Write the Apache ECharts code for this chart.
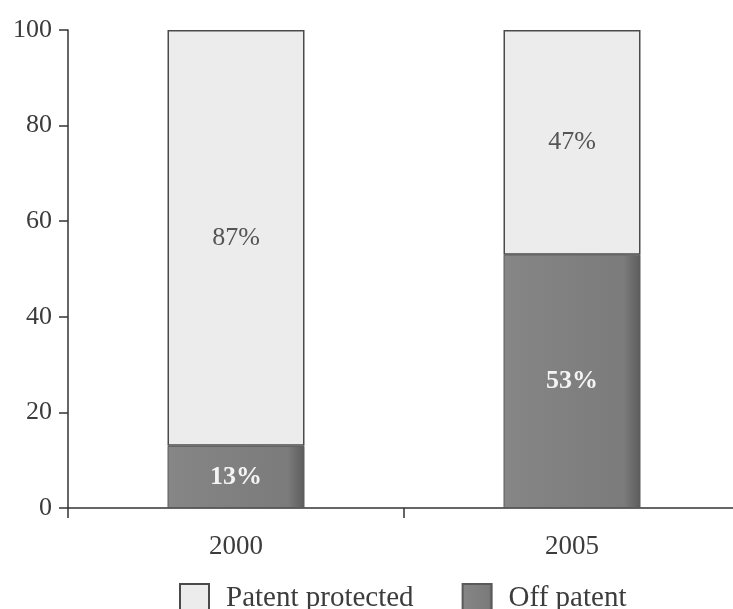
<!DOCTYPE html>
<html>
<head>
<meta charset="utf-8">
<script src="https://cdn.jsdelivr.net/npm/echarts@6/dist/echarts.min.js"></script>
<style>
  html, body { margin: 0; padding: 0; background: #ffffff; overflow: hidden; }
  /* the category axis runs a few pixels past the right edge of the page */
  #chart { width: 740px; height: 609px; }
</style>
</head>
<body>
<div id="chart"></div>
<script>
// Share of sales by patent status, in percent
const years = ['2000', '2005'];
const offPatent = [13, 53];
const patentProtected = [87, 47];
const seriesNames = ['Patent protected', 'Off patent'];
const yTicks = { min: 0, max: 100, step: 20 };

const serif = '"Liberation Serif", "DejaVu Serif", serif';
const ink = '#3c3c3c';

const chart = echarts.init(document.getElementById('chart'), null, { renderer: 'canvas' });

const darkFill = {
  type: 'linear', x: 0, y: 0, x2: 1, y2: 0,
  colorStops: [
    { offset: 0, color: '#868686' },
    { offset: 0.88, color: '#7b7b7b' },
    { offset: 1, color: '#5c5c5c' }
  ]
};

chart.setOption({
  animation: false,
  backgroundColor: '#ffffff',
  grid: { left: 68, top: 30, right: 0, bottom: 101, containLabel: false },
  legend: {
    data: seriesNames,
    left: 174,
    top: 578,
    itemWidth: 29,
    itemHeight: 29,
    itemGap: 48,
    icon: 'rect',
    textStyle: {
      fontFamily: serif,
      fontSize: 29,
      color: ink,
      padding: [0, 0, 0, 12]
    }
  },
  xAxis: {
    type: 'category',
    data: years,
    boundaryGap: true,
    axisLine: { lineStyle: { color: '#333', width: 1.5 } },
    axisTick: { show: true, length: 10, alignWithLabel: false, lineStyle: { color: '#333', width: 1.5 } },
    axisLabel: { fontFamily: serif, fontSize: 27, color: ink, margin: 25 }
  },
  yAxis: {
    type: 'value',
    min: yTicks.min,
    max: yTicks.max,
    interval: yTicks.step,
    splitLine: { show: false },
    axisLine: { show: true, lineStyle: { color: '#333', width: 1.5 } },
    axisTick: { show: true, length: 9, lineStyle: { color: '#333', width: 1.5 } },
    axisLabel: { fontFamily: serif, fontSize: 26, color: ink, margin: 16 }
  },
  series: [
    {
      name: seriesNames[1],
      type: 'bar',
      stack: 'share',
      barWidth: 137,
      data: offPatent,
      itemStyle: { color: darkFill, borderColor: '#5a5a5a', borderWidth: 1 },
      label: {
        show: true,
        position: 'inside',
        formatter: p => p.value + '%',
        fontFamily: serif,
        fontWeight: 'bold',
        fontSize: 26,
        color: '#f4f4f4'
      }
    },
    {
      name: seriesNames[0],
      type: 'bar',
      stack: 'share',
      barWidth: 137,
      data: patentProtected,
      itemStyle: { color: '#ececec', borderColor: '#4a4a4a', borderWidth: 1.5 },
      label: {
        show: true,
        position: 'inside',
        formatter: p => p.value + '%',
        fontFamily: serif,
        fontSize: 26,
        color: '#555555'
      }
    }
  ]
});
</script>
</body>
</html>
